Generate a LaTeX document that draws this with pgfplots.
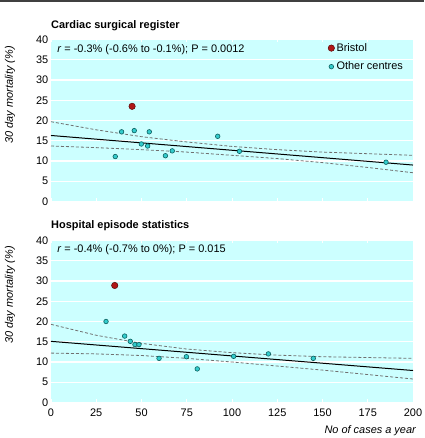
\documentclass[border=0pt,11pt]{standalone}
\usepackage{pgfplots}
\pgfplotsset{compat=1.18}
\usepackage{fontspec}
\setmainfont{Liberation Sans}
\definecolor{bgcyan}{HTML}{CCFFFF}
\definecolor{ptfill}{HTML}{33CCCC}
\definecolor{ptdraw}{HTML}{0B5F5F}
\definecolor{bristol}{HTML}{B01818}
\definecolor{bristold}{HTML}{5A0808}
\definecolor{dashgrey}{HTML}{707070}
\pgfplotsset{
  panel/.style={
    width=362pt, height=162pt, scale only axis,
    xmin=0, xmax=200, ymin=0, ymax=40,
    xtick={0,25,...,200}, ytick={0,5,...,40},
    axis line style={draw=none},
    axis background/.style={fill=bgcyan},
    ymajorgrids, grid style={white, line width=1.1pt},
    tick align=inside, major tick length=3pt,
    xtick style={white, line width=1pt},
    ytick style={draw=none},
    /pgf/number format/assume math mode=true,
    yticklabel style={inner sep=1pt, xshift=-1.5pt},
    xticklabel style={inner sep=1pt, yshift=-5pt},
    clip=false,
  },
  others/.style={only marks, mark=*, mark size=2.3pt, mark options={fill=ptfill, draw=ptdraw, line width=0.6pt}},
  bris/.style={only marks, mark=*, mark size=3.2pt, mark options={fill=bristol, draw=bristold, line width=0.5pt}},
  fit/.style={black, line width=1pt, forget plot},
  band/.style={dashgrey, line width=0.8pt, dash pattern=on 3pt off 2pt, forget plot},
}
\begin{document}
\begin{tikzpicture}
\path[use as bounding box] (0,0) rectangle (424pt,438pt);
\draw[line width=1.5pt, black!75] (0,436.8pt) -- (424pt,436.8pt);
% titles
\node[anchor=base west, inner sep=0pt, font=\bfseries] at (51pt,409pt) {Cardiac surgical register};
\node[anchor=base west, inner sep=0pt, font=\bfseries] at (51pt,209pt) {Hospital episode statistics};
% y labels
\node[rotate=90, inner sep=0pt, font=\itshape] at (10pt,343pt) {30 day mortality (\%)};
\node[rotate=90, inner sep=0pt, font=\itshape] at (10pt,143pt) {30 day mortality (\%)};
% x label
\node[anchor=base east, inner sep=0pt, font=\itshape] at (416pt,5pt) {No of cases a year};

\begin{axis}[panel, at={(51pt,236.5pt)}, anchor=south west,
  xticklabels={},
  legend style={at={(rel axis cs:0.765,0.99)}, anchor=north west, draw=none, fill=none,
    row sep=5pt, inner sep=0pt},
  legend cell align=left,
  legend image code/.code={\draw[mark repeat=2,mark phase=2,#1] plot coordinates {(0cm,0cm) (0.1cm,0cm) (0.2cm,0cm)};},
]
\addplot[band] coordinates {(0,19.7)(25,17.7)(50,16.0)(75,14.7)(100,13.6)(125,12.8)(150,12.2)(175,11.8)(200,11.4)};
\addplot[band] coordinates {(0,13.7)(25,13.3)(50,12.8)(75,12.2)(100,11.4)(125,10.6)(150,9.6)(175,8.4)(200,7.1)};
\addplot[fit] coordinates {(0,16.3)(200,9.0)};
\addplot[bris] coordinates {(44.8,23.5)};
\addlegendentry{Bristol}
\addplot[others] coordinates {(35.5,11.1)(39.0,17.2)(46.0,17.5)(49.9,14.2)(53.4,13.7)(54.3,17.2)(63.2,11.3)(67.0,12.5)(92.1,16.1)(104.1,12.4)(185.1,9.7)};
\addlegendentry{Other centres}
\node[anchor=base west, inner sep=0pt] at (rel axis cs:0.017,0.92) {\textit{r} = -0.3\% (-0.6\% to -0.1\%); P = 0.0012};
\end{axis}

\begin{axis}[panel, at={(51pt,35.5pt)}, anchor=south west]
\addplot[band] coordinates {(0,19.3)(25,16.6)(50,14.6)(75,13.2)(100,12.3)(125,11.7)(150,11.3)(175,11.1)(200,10.9)};
\addplot[band] coordinates {(0,12.2)(25,12.0)(50,11.6)(75,10.9)(100,10.0)(125,9.0)(150,8.0)(175,6.9)(200,5.8)};
\addplot[fit] coordinates {(0,15.1)(200,7.9)};
\addplot[bris] coordinates {(35.2,28.9)};
\addplot[others] coordinates {(30.4,20.0)(40.7,16.4)(43.8,15.1)(46.4,14.3)(48.6,14.3)(59.7,10.9)(74.8,11.3)(80.8,8.3)(100.9,11.4)(120.1,12.0)(144.9,10.9)};
\node[anchor=base west, inner sep=0pt] at (rel axis cs:0.017,0.927) {\textit{r} = -0.4\% (-0.7\% to 0\%); P = 0.015};
\end{axis}
\end{tikzpicture}
\end{document}
